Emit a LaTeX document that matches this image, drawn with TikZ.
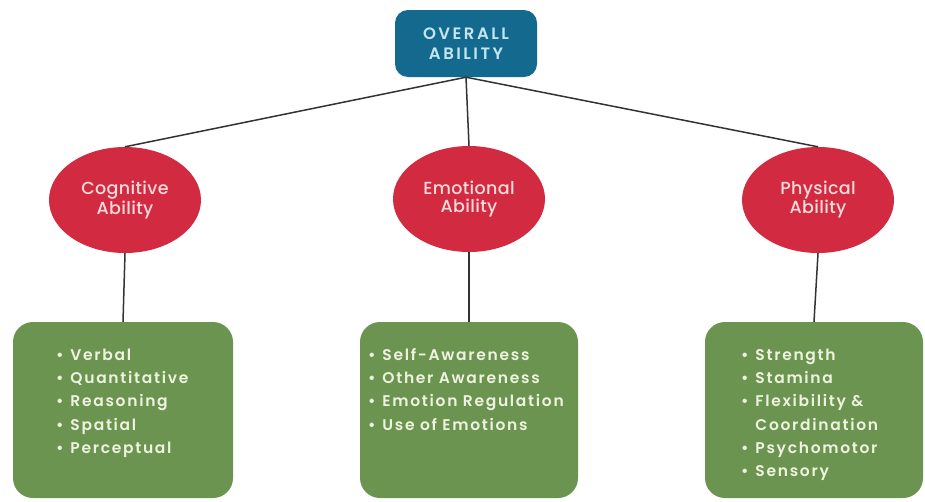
\documentclass[tikz,border=0pt]{standalone}
\usepackage{fontspec}
\setmainfont{Poppins}
\newfontfamily\listfont{Poppins SemiBold}[LetterSpace=11]
\newfontfamily\capsfont{Poppins SemiBold}[LetterSpace=15]
\newfontfamily\ovalfont{Poppins Medium}[LetterSpace=2]
\usepackage{tikz}
\usetikzlibrary{shapes.geometric,positioning}

\definecolor{topblue}{HTML}{14698F}
\definecolor{topfont}{HTML}{C4E6F2}
\definecolor{abilred}{HTML}{D22A40}
\definecolor{redfont}{HTML}{F8DCDC}
\definecolor{boxgreen}{HTML}{6B9450}
\definecolor{greenfont}{HTML}{EEF3DF}

\begin{document}
\begin{tikzpicture}[x=1pt,y=-1pt,
    topbox/.style={rectangle,rounded corners=13pt,fill=topblue,text=topfont,
        minimum width=142pt,minimum height=67pt,align=center,font=\capsfont\fontsize{16.5}{20}\selectfont},
    ability/.style={ellipse,fill=abilred,text=redfont,minimum width=152pt,
        minimum height=106pt,align=center,font=\ovalfont\fontsize{17.5}{18}\selectfont},
    listbox/.style={rectangle,rounded corners=20pt,fill=boxgreen,minimum height=176pt},
    listtxt/.style={text=greenfont,font=\listfont\fontsize{15.5}{23.3}\selectfont,inner sep=0pt},
    link/.style={black!80,line width=1.5pt}]

    \useasboundingbox (0,0) rectangle (925,501);

    \node[topbox] (overall) at (466,43.5) {OVERALL\\ABILITY};

	\node[ability] (cog) at (125,200) {Cognitive\\Ability};
	\node[ability] (emo) at (469,199) {Emotional\\Ability};
	\node[ability] (phy) at (818,200) {Physical\\Ability};

    \node[listbox,minimum width=220pt] (cogbox) at (123,410) {};
    \node[listbox,minimum width=218pt] (emobox) at (469,410) {};
    \node[listbox,minimum width=218pt] (phybox) at (814,410) {};

    \node[listtxt,anchor=north west,below right=22pt and 43pt of cogbox.north west] (coglist) {%
        \begin{tabular}{@{}l@{\hspace{7pt}}l@{}}
        • & Verbal\\ • & Quantitative\\ • & Reasoning\\ • & Spatial\\ • & Perceptual
        \end{tabular}};
    \node[listtxt,anchor=north west,below right=22pt and 8pt of emobox.north west] (emolist) {%
        \begin{tabular}{@{}l@{\hspace{7pt}}l@{}}
        • & Self-Awareness\\ • & Other Awareness\\ • & Emotion Regulation\\ • & Use of Emotions
        \end{tabular}};
    \node[listtxt,anchor=north west,below right=22pt and 36pt of phybox.north west] (phylist) {%
        \begin{tabular}{@{}l@{\hspace{7pt}}l@{}}
        • & Strength\\ • & Stamina\\ • & Flexibility \&\\ & Coordination\\ • & Psychomotor\\ • & Sensory
        \end{tabular}};

    \draw[link] (overall.south) -- (cog.north);
    \draw[link] (overall.south) -- (emo.north);
    \draw[link] (overall.south) -- (phy.north);

    \draw[link] (cog.south) -- (cogbox.north);
    \draw[link] (emo.south) -- (emobox.north);
    \draw[link] (phy.south) -- (phybox.north);

\end{tikzpicture}
\end{document}
